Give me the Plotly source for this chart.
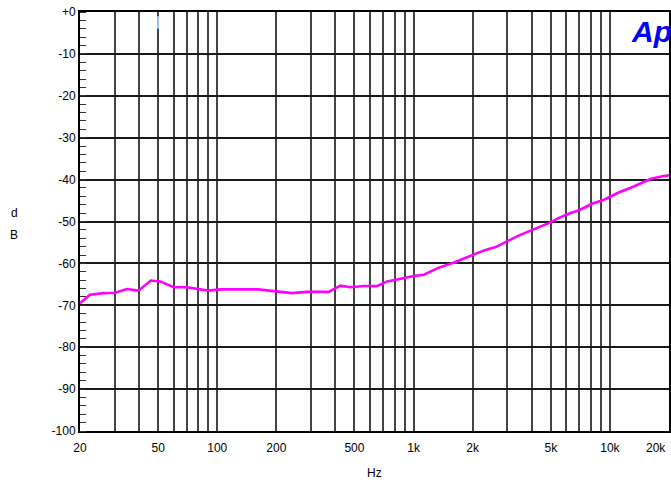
import math
import plotly.graph_objects as go

# ---- data ----
freq_hz = [20, 22.5, 26.3, 30.2, 34.6, 39.7, 45.9, 51.2, 59.9, 70, 90, 104, 162, 240, 287, 370,
           424, 477, 557, 653, 734, 859, 1004, 1129, 1346, 1606, 1955, 2284, 2619, 3064, 3445,
           4035, 4810, 5410, 6200, 6970, 8160, 9350, 10940, 13300, 16200, 18580, 20000]
level_db = [-69.5, -67.5, -67.1, -67.0, -66.1, -66.5, -64.1, -64.3, -65.7, -65.7, -66.5, -66.2,
            -66.2, -67.1, -66.8, -66.8, -65.3, -65.7, -65.4, -65.4, -64.3, -63.6, -63.0, -62.7,
            -61.0, -59.8, -58.2, -56.9, -56.1, -54.5, -53.3, -52.0, -50.5, -49.3, -48.1, -47.3,
            -45.7, -44.8, -43.2, -41.6, -39.8, -39.2, -39.0]

grid_freqs = [20, 30, 40, 50, 60, 70, 80, 90, 100, 200, 300, 400, 500, 600, 700, 800, 900,
              1000, 2000, 3000, 4000, 5000, 6000, 7000, 8000, 9000, 10000, 20000]
freq_labels = {20: "20", 50: "50", 100: "100", 200: "200", 500: "500", 1000: "1k",
               2000: "2k", 5000: "5k", 10000: "10k"}
db_ticks = [0, -10, -20, -30, -40, -50, -60, -70, -80, -90, -100]
db_labels = ["+0", "-10", "-20", "-30", "-40", "-50", "-60", "-70", "-80", "-90", "-100"]

W, H = 671, 483
L, R, T, B = 80, 0, 12, 52
pw, ph = W - L - R, H - T - B

def px(x):
    return (x - L) / pw

def py(y):
    return (H - B - y) / ph

font = "Liberation Sans, Arial, sans-serif"

fig = go.Figure()
fig.add_trace(go.Scatter(x=freq_hz, y=level_db, mode="lines",
                         line=dict(color="#ff00ff", width=2.6), showlegend=False,
                         hoverinfo="skip"))

fig.update_layout(
    width=W, height=H,
    margin=dict(l=L, r=R, t=T, b=B),
    paper_bgcolor="white", plot_bgcolor="white",
    font=dict(family=font, size=12, color="black"),
    xaxis=dict(
        type="log", range=[math.log10(20), math.log10(20000)],
        tickmode="array", tickvals=grid_freqs,
        ticktext=[freq_labels.get(f, "") if f != 20000 else "" for f in grid_freqs],
        showgrid=True, gridcolor="#444444", gridwidth=1.8,
        showline=True, linecolor="black", linewidth=2, mirror=True,
        ticks="outside", ticklen=5, tickcolor="rgba(0,0,0,0)",
        tickfont=dict(size=12, family=font),
        zeroline=False,
    ),
    yaxis=dict(
        range=[-100, 0], tickmode="array", tickvals=db_ticks, ticktext=db_labels,
        showgrid=True, gridcolor="#1a1a1a", gridwidth=1.5,
        showline=True, linecolor="black", linewidth=2, mirror=True,
        ticks="", tickfont=dict(size=12, family=font),
        zeroline=False,
        minor=dict(dtick=2, tick0=0, ticks="inside", ticklen=6, tickcolor="#333",
                   tickwidth=1.3, showgrid=False),
    ),
    annotations=[
        dict(text="20k", x=px(670), y=py(448), xref="paper", yref="paper",
             xanchor="right", yanchor="middle", showarrow=False,
             font=dict(size=12, family=font)),
        dict(text="Hz", x=px(375), y=py(473), xref="paper", yref="paper",
             xanchor="center", yanchor="middle", showarrow=False,
             font=dict(size=12, family=font)),
        dict(text="d", x=px(14), y=py(213), xref="paper", yref="paper",
             xanchor="center", yanchor="middle", showarrow=False,
             font=dict(size=12, family=font)),
        dict(text="B", x=px(14), y=py(235), xref="paper", yref="paper",
             xanchor="center", yanchor="middle", showarrow=False,
             font=dict(size=12, family=font)),
        dict(text="<b><i>Ap</i></b>", x=px(631), y=py(32), xref="paper", yref="paper",
             xanchor="left", yanchor="middle", showarrow=False,
             font=dict(size=30, family="Liberation Sans, Arial, sans-serif", color="#0000ff")),
    ],
    shapes=[
        dict(type="line", xref="x", yref="y", x0=50, x1=50, y0=-1.0, y1=-4.0,
             line=dict(color="#9fd0ff", width=2)),
    ],
)

fig.write_html("out.html", config={"displayModeBar": False},
               post_script="document.body.style.margin='0';document.body.style.overflow='hidden';")
